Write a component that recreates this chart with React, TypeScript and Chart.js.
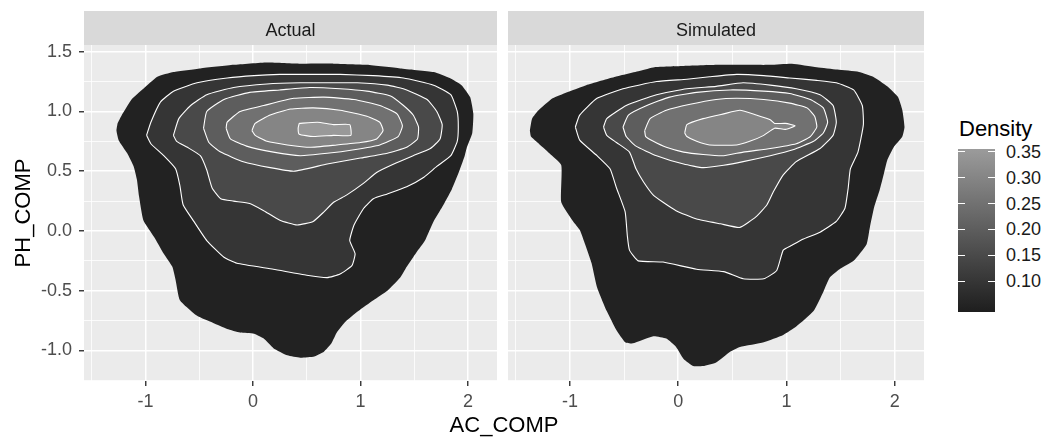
import React, { useEffect, useRef } from "react";
import { Chart, registerables } from "chart.js";

Chart.register(...registerables);

const FONT = '"Liberation Sans", Arial, Helvetica, sans-serif';
Chart.defaults.font.family = FONT;

// ---------- data ----------
const PANELS = ["Actual", "Simulated"];
const X_RANGE = [-1.572, 2.27];
const Y_RANGE = [-1.255, 1.556];
const X_TICK_LABELS = [-1, 0, 1, 2];
const Y_TICK_LABELS = [-1.0, -0.5, 0.0, 0.5, 1.0, 1.5];
const LEVELS = [0.05, 0.1, 0.15, 0.2, 0.25, 0.3, 0.35];
const LEGEND_TICKS = [0.1, 0.15, 0.2, 0.25, 0.3, 0.35];
const DENSITY_RANGE = [0.041, 0.355];

type P = [number, number];

// Actual panel contours, outermost (0.05) to innermost (0.35)
const ACTUAL_05: P[] = [[-1.26,0.90],[-1.22,0.97],[-1.13,1.10],[-1.02,1.19],[-0.89,1.29],[-0.74,1.33],[-0.49,1.36],[-0.18,1.39],[0.13,1.41],[0.44,1.40],[0.75,1.40],[1.06,1.39],[1.37,1.36],[1.68,1.33],[1.83,1.28],[1.94,1.22],[2.02,1.12],[2.05,0.98],[2.04,0.82],[1.99,0.70],[1.97,0.63],[1.91,0.48],[1.85,0.35],[1.76,0.20],[1.68,0.08],[1.60,-0.08],[1.52,-0.18],[1.43,-0.30],[1.37,-0.39],[1.25,-0.50],[1.12,-0.58],[0.98,-0.67],[0.86,-0.76],[0.78,-0.85],[0.73,-0.94],[0.66,-1.01],[0.57,-1.05],[0.44,-1.06],[0.32,-1.04],[0.19,-0.98],[0.10,-0.90],[0.01,-0.86],[-0.12,-0.85],[-0.24,-0.82],[-0.37,-0.77],[-0.52,-0.71],[-0.68,-0.58],[-0.72,-0.41],[-0.75,-0.30],[-0.83,-0.19],[-0.92,-0.05],[-1.02,0.09],[-1.06,0.29],[-1.08,0.43],[-1.11,0.54],[-1.17,0.65],[-1.25,0.76],[-1.27,0.84]];
const ACTUAL_10: P[] = [[-0.99,0.80],[-0.95,0.91],[-0.86,1.08],[-0.74,1.17],[-0.52,1.24],[-0.24,1.28],[0.01,1.30],[0.25,1.31],[0.50,1.31],[0.81,1.31],[1.12,1.30],[1.40,1.28],[1.68,1.22],[1.84,1.14],[1.90,1.00],[1.91,0.87],[1.90,0.75],[1.84,0.63],[1.71,0.54],[1.59,0.45],[1.43,0.37],[1.25,0.31],[1.12,0.27],[1.03,0.19],[0.94,0.05],[0.90,-0.08],[0.95,-0.19],[0.92,-0.29],[0.81,-0.36],[0.69,-0.39],[0.50,-0.37],[0.19,-0.32],[-0.15,-0.27],[-0.27,-0.22],[-0.43,-0.08],[-0.55,0.08],[-0.65,0.22],[-0.68,0.38],[-0.72,0.52],[-0.83,0.63],[-0.95,0.73]];
const ACTUAL_15: P[] = [[-0.74,0.80],[-0.69,0.94],[-0.58,1.05],[-0.43,1.14],[-0.18,1.20],[0.13,1.23],[0.44,1.24],[0.72,1.24],[0.97,1.24],[1.25,1.22],[1.43,1.18],[1.62,1.10],[1.71,1.00],[1.76,0.89],[1.74,0.77],[1.65,0.69],[1.49,0.63],[1.31,0.56],[1.15,0.49],[1.03,0.40],[0.87,0.30],[0.75,0.24],[0.66,0.16],[0.56,0.08],[0.41,0.05],[0.25,0.09],[0.10,0.17],[-0.03,0.23],[-0.18,0.25],[-0.30,0.27],[-0.38,0.36],[-0.43,0.51],[-0.49,0.63],[-0.61,0.70],[-0.71,0.75]];
const ACTUAL_20: P[] = [[-0.46,0.86],[-0.43,1.00],[-0.27,1.10],[-0.03,1.16],[0.25,1.18],[0.53,1.20],[0.81,1.19],[1.06,1.17],[1.28,1.13],[1.40,1.05],[1.49,0.97],[1.54,0.87],[1.53,0.77],[1.43,0.70],[1.25,0.65],[1.00,0.61],[0.69,0.56],[0.38,0.50],[0.16,0.53],[-0.09,0.58],[-0.30,0.66],[-0.41,0.74]];
const ACTUAL_25: P[] = [[-0.25,0.86],[-0.24,0.91],[-0.12,1.00],[0.10,1.05],[0.38,1.11],[0.66,1.12],[0.94,1.10],[1.18,1.05],[1.34,0.98],[1.39,0.88],[1.35,0.79],[1.18,0.72],[0.94,0.68],[0.69,0.65],[0.44,0.63],[0.19,0.66],[-0.06,0.71],[-0.21,0.77]];
const ACTUAL_30: P[] = [[-0.01,0.84],[0.02,0.90],[0.16,0.97],[0.35,1.02],[0.56,1.03],[0.81,1.01],[1.06,0.96],[1.18,0.91],[1.21,0.84],[1.15,0.77],[1.00,0.74],[0.78,0.72],[0.53,0.70],[0.32,0.72],[0.13,0.75],[0.02,0.80]];
const ACTUAL_35: P[] = [[0.43,0.90],[0.60,0.91],[0.75,0.89],[0.90,0.89],[0.91,0.80],[0.75,0.80],[0.56,0.79],[0.43,0.81],[0.42,0.86]];

// Simulated panel contours, outermost (0.05) to innermost (0.30)
const SIM_05: P[] = [[-1.37,0.84],[-1.35,0.94],[-1.29,1.01],[-1.16,1.11],[-1.00,1.17],[-0.85,1.22],[-0.58,1.29],[-0.35,1.34],[-0.22,1.37],[0.04,1.38],[0.37,1.39],[0.63,1.39],[0.85,1.39],[1.05,1.40],[1.28,1.37],[1.47,1.35],[1.67,1.33],[1.80,1.29],[1.93,1.21],[2.03,1.12],[2.07,1.01],[2.09,0.87],[2.07,0.79],[1.99,0.70],[1.93,0.59],[1.90,0.48],[1.86,0.34],[1.81,0.20],[1.77,0.03],[1.74,-0.11],[1.62,-0.25],[1.49,-0.32],[1.40,-0.39],[1.34,-0.51],[1.25,-0.67],[1.09,-0.80],[0.97,-0.87],[0.79,-0.93],[0.57,-0.97],[0.48,-1.01],[0.35,-1.10],[0.23,-1.13],[0.14,-1.13],[0.05,-1.07],[-0.02,-0.97],[-0.11,-0.90],[-0.23,-0.88],[-0.42,-0.94],[-0.49,-0.93],[-0.57,-0.83],[-0.66,-0.67],[-0.75,-0.47],[-0.80,-0.27],[-0.86,-0.11],[-0.91,0.01],[-0.97,0.08],[-1.08,0.24],[-1.08,0.55],[-1.19,0.65],[-1.30,0.74],[-1.36,0.79]];
const SIM_10: P[] = [[-0.95,0.87],[-0.91,0.97],[-0.75,1.11],[-0.51,1.19],[-0.20,1.25],[0.08,1.27],[0.29,1.29],[0.54,1.31],[0.79,1.30],[1.03,1.28],[1.28,1.26],[1.46,1.24],[1.62,1.18],[1.70,1.05],[1.71,0.89],[1.66,0.66],[1.59,0.52],[1.57,0.36],[1.54,0.19],[1.46,0.08],[1.31,-0.01],[1.15,-0.07],[1.05,-0.12],[0.97,-0.16],[0.91,-0.33],[0.79,-0.40],[0.60,-0.40],[0.42,-0.34],[0.17,-0.32],[-0.14,-0.26],[-0.37,-0.25],[-0.45,-0.16],[-0.47,-0.04],[-0.49,0.16],[-0.57,0.36],[-0.63,0.52],[-0.75,0.63],[-0.91,0.76]];
const SIM_15: P[] = [[-0.69,0.87],[-0.66,0.94],[-0.48,1.05],[-0.20,1.14],[0.08,1.19],[0.35,1.21],[0.60,1.24],[0.85,1.22],[1.09,1.19],[1.31,1.14],[1.43,1.05],[1.46,0.91],[1.43,0.80],[1.31,0.69],[1.09,0.58],[0.97,0.47],[0.88,0.33],[0.82,0.22],[0.72,0.12],[0.57,0.03],[0.39,0.06],[0.17,0.10],[-0.02,0.17],[-0.14,0.24],[-0.23,0.30],[-0.32,0.41],[-0.39,0.52],[-0.45,0.66],[-0.57,0.74],[-0.66,0.80]];
const SIM_20: P[] = [[-0.51,0.87],[-0.46,0.97],[-0.29,1.05],[-0.08,1.12],[0.17,1.16],[0.48,1.18],[0.79,1.17],[1.03,1.15],[1.22,1.10],[1.34,1.03],[1.38,0.91],[1.34,0.82],[1.25,0.75],[1.06,0.68],[0.85,0.63],[0.60,0.58],[0.42,0.55],[0.23,0.53],[0.05,0.56],[-0.20,0.63],[-0.39,0.71],[-0.48,0.79]];
const SIM_25: P[] = [[-0.31,0.84],[-0.26,0.94],[-0.11,1.01],[0.11,1.06],[0.35,1.10],[0.54,1.11],[0.79,1.10],[1.03,1.07],[1.19,1.03],[1.26,0.96],[1.28,0.87],[1.22,0.79],[1.09,0.73],[0.85,0.69],[0.60,0.66],[0.42,0.63],[0.23,0.64],[0.05,0.66],[-0.11,0.70],[-0.23,0.75],[-0.30,0.79]];
const SIM_30: P[] = [[0.06,0.82],[0.08,0.89],[0.23,0.94],[0.42,0.98],[0.57,1.01],[0.72,0.97],[0.85,0.93],[0.89,0.90],[0.99,0.90],[1.08,0.88],[0.99,0.85],[0.89,0.86],[0.79,0.80],[0.66,0.75],[0.54,0.72],[0.29,0.72],[0.17,0.75],[0.08,0.79]];

const ACTUAL_CONTOURS = [ACTUAL_05, ACTUAL_10, ACTUAL_15, ACTUAL_20, ACTUAL_25, ACTUAL_30, ACTUAL_35];
const SIM_CONTOURS = [SIM_05, SIM_10, SIM_15, SIM_20, SIM_25, SIM_30];

// ---------- styling helpers ----------
const G_LOW = 30;
const G_HIGH = 155;
function levelColor(v: number): string {
  const t = Math.max(0, Math.min(1, (v - DENSITY_RANGE[0]) / (DENSITY_RANGE[1] - DENSITY_RANGE[0])));
  const g = Math.round(G_LOW + t * (G_HIGH - G_LOW));
  return `rgb(${g},${g},${g})`;
}

const isMult = (v: number, step: number) => Math.abs(v / step - Math.round(v / step)) < 1e-6;

function makePanelPlugin(label: string) {
  return {
    id: "panelDecor",
    beforeDraw(chart: any) {
      const { ctx, chartArea: a } = chart;
      ctx.save();
      ctx.fillStyle = "#EBEBEB";
      ctx.fillRect(a.left, a.top, a.right - a.left, a.bottom - a.top);
      ctx.fillStyle = "#D9D9D9";
      ctx.fillRect(a.left, 11, a.right - a.left, a.top - 11);
      ctx.fillStyle = "#1A1A1A";
      ctx.font = `18px ${FONT}`;
      ctx.textAlign = "center";
      ctx.textBaseline = "alphabetic";
      ctx.fillText(label, (a.left + a.right) / 2, 35.5);
      ctx.restore();
    },
  };
}

const TOP = 45;
const BOTTOM = 381;
const H = 441;

function Panel(props: { label: string; contours: P[][]; left: number; width: number; yAxisWidth: number; showY: boolean }) {
  const ref = useRef<HTMLCanvasElement>(null);
  const { label, contours, left, width, yAxisWidth, showY } = props;

  useEffect(() => {
    if (!ref.current) return;
    const n = contours.length;
    const datasets = contours.map((pts, i) => {
      const data = pts.map(([x, y]) => ({ x, y }));
      data.push({ x: pts[0][0], y: pts[0][1] });
      return {
        label: `${label} ${LEVELS[i]}`,
        data,
        backgroundColor: levelColor(LEVELS[i]),
        borderColor: "#FFFFFF",
        borderWidth: i === 0 ? 0 : 1.1,
        fill: "shape",
        pointRadius: 0,
        tension: 0.15,
        spanGaps: true,
        order: n - i,
      };
    });

    const chart = new Chart(ref.current, {
      type: "line",
      data: { datasets } as any,
      options: {
        animation: false,
        responsive: false,
        events: [],
        layout: { padding: { left: 0, top: TOP, right: 3, bottom: 0 } },
        plugins: {
          legend: { display: false },
          tooltip: { enabled: false },
          title: { display: false },
        },
        scales: {
          x: {
            type: "linear",
            min: X_RANGE[0],
            max: X_RANGE[1],
            afterFit: (s: any) => {
              s.height = H - BOTTOM;
            },
            border: { display: false },
            grid: {
              color: "#FFFFFF",
              lineWidth: (c: any) => (c.tick && isMult(c.tick.value, 1) ? 1.5 : 0.8),
              drawTicks: true,
              tickLength: 5,
              tickWidth: 1.4,
              tickColor: (c: any) => (c.tick && X_TICK_LABELS.some((t) => Math.abs(t - c.tick.value) < 1e-6) ? "#333333" : "rgba(0,0,0,0)"),
            },
            ticks: {
              stepSize: 0.5,
              includeBounds: false,
              autoSkip: false,
              maxRotation: 0,
              padding: 5,
              color: "#4D4D4D",
              font: { size: 18, family: FONT },
              callback: (v: any) => {
                const f = X_TICK_LABELS.find((t) => Math.abs(t - Number(v)) < 1e-6);
                return f === undefined ? "" : String(f);
              },
            },
          },
          y: {
            type: "linear",
            min: Y_RANGE[0],
            max: Y_RANGE[1],
            afterFit: (s: any) => {
              s.width = yAxisWidth;
            },
            border: { display: false },
            title: {
              display: showY,
              text: "PH_COMP",
              color: "#000000",
              font: { size: 22, family: FONT },
              padding: { top: 11, bottom: 0 },
            },
            grid: {
              color: "#FFFFFF",
              lineWidth: (c: any) => (c.tick && isMult(c.tick.value, 0.5) ? 1.5 : 0.8),
              drawTicks: showY,
              tickLength: 5,
              tickWidth: 1.4,
              tickColor: (c: any) => (c.tick && Y_TICK_LABELS.some((t) => Math.abs(t - c.tick.value) < 1e-6) ? "#333333" : "rgba(0,0,0,0)"),
            },
            ticks: {
              display: showY,
              stepSize: 0.25,
              includeBounds: false,
              autoSkip: false,
              padding: 7,
              color: "#4D4D4D",
              font: { size: 18, family: FONT },
              callback: (v: any) => {
                const f = Y_TICK_LABELS.find((t) => Math.abs(t - Number(v)) < 1e-6);
                return f === undefined ? "" : f.toFixed(1);
              },
            },
          },
        },
      } as any,
      plugins: [makePanelPlugin(label)],
    });
    return () => chart.destroy();
  }, []);

  return (
    <canvas
      ref={ref}
      width={width}
      height={H}
      style={{ position: "absolute", left, top: 0, width: `${width}px`, height: `${H}px` }}
    />
  );
}

function Legend() {
  const barTop = 149;
  const barBottom = 312;
  const barLeft = 958;
  const barW = 37;
  const yOf = (v: number) => barBottom - ((v - DENSITY_RANGE[0]) / (DENSITY_RANGE[1] - DENSITY_RANGE[0])) * (barBottom - barTop);
  const tickLen = 7;
  return (
    <>
      <div style={{ position: "absolute", left: 959, top: 118, fontSize: 22, lineHeight: "22px", fontFamily: FONT, color: "#000" }}>Density</div>
      <div
        style={{
          position: "absolute",
          left: barLeft,
          top: barTop,
          width: barW,
          height: barBottom - barTop,
          background: `linear-gradient(to top, ${levelColor(DENSITY_RANGE[0])}, ${levelColor(DENSITY_RANGE[1])})`,
        }}
      />
      {LEGEND_TICKS.map((t) => (
        <React.Fragment key={t}>
          <div style={{ position: "absolute", left: barLeft, top: yOf(t) - 0.7, width: tickLen, height: 1.4, background: "#fff" }} />
          <div style={{ position: "absolute", left: barLeft + barW - tickLen, top: yOf(t) - 0.7, width: tickLen, height: 1.4, background: "#fff" }} />
          <div style={{ position: "absolute", left: 1006, top: yOf(t) - 9, fontSize: 18, lineHeight: "18px", fontFamily: FONT, color: "#1A1A1A" }}>{t.toFixed(2)}</div>
        </React.Fragment>
      ))}
    </>
  );
}

export default function App() {
  return (
    <div style={{ position: "fixed", left: 0, top: 0, width: 1050, height: 441, background: "#FFFFFF", overflow: "hidden" }}>
      <Panel label={PANELS[0]} contours={ACTUAL_CONTOURS} left={0} width={500} yAxisWidth={84} showY={true} />
      <Panel label={PANELS[1]} contours={SIM_CONTOURS} left={500} width={427} yAxisWidth={8} showY={false} />
      <div style={{ position: "absolute", left: 0, width: 1008, top: 414, textAlign: "center", fontSize: 22, lineHeight: "22px", fontFamily: FONT, color: "#000" }}>AC_COMP</div>
      <Legend />
    </div>
  );
}
